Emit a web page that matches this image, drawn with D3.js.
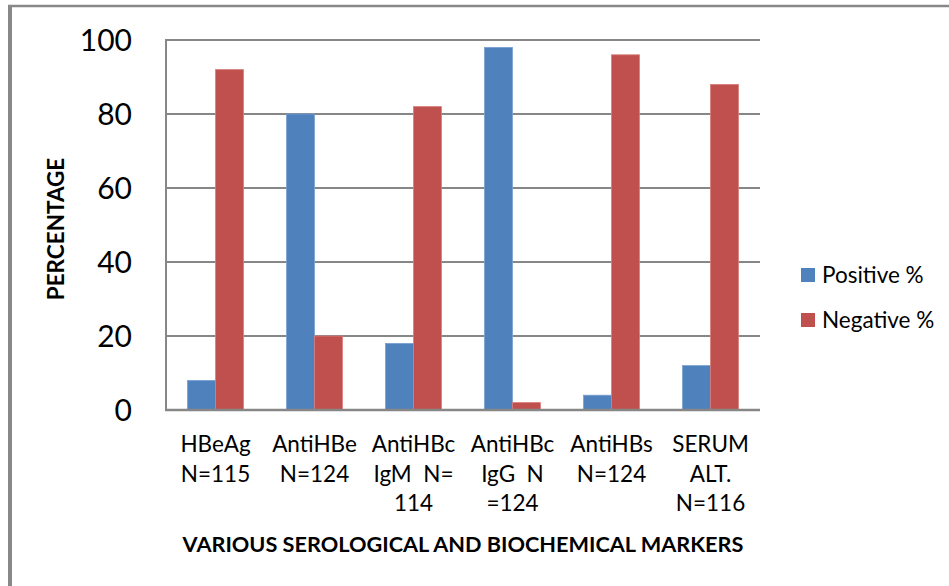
<!DOCTYPE html>
<html><head><meta charset="utf-8">
<script src="https://cdn.jsdelivr.net/npm/d3@7"></script>
<style>body{margin:0;background:#fff;} svg{display:block;font-family:Lato,"Open Sans",sans-serif;}</style>
</head><body>
<svg id="c" width="949" height="586"></svg>
<script>
const categories = [["HBeAg","N=115"],["AntiHBe","N=124"],["AntiHBc","IgM  N=","114"],["AntiHBc","IgG  N","=124"],["AntiHBs","N=124"],["SERUM","ALT.","N=116"]];
const positive = [8, 80, 18, 98, 4, 12];
const negative = [92, 20, 82, 2, 96, 88];
const yTicks = [0, 20, 40, 60, 80, 100];
const seriesNames = ["Positive %", "Negative %"];
const colors = ["#4F81BD", "#C0504D"];

const svg = d3.select("#c");
const L = 166, R = 760, T = 40, B = 410;
// outer frame
svg.append("line").attr("x1",10).attr("x2",10).attr("y1",5).attr("y2",586).attr("stroke","#888").attr("stroke-width",4);
svg.append("line").attr("x1",8).attr("x2",949).attr("y1",6).attr("y2",6).attr("stroke","#888").attr("stroke-width",2.5);

const idx = categories.map((d,i)=>i);
const x = d3.scaleBand().domain(idx).range([L,R]).paddingInner(0).paddingOuter(0);
const y = d3.scaleLinear().domain([0,100]).range([B,T]);
const bw = 28;

// gridlines
svg.append("g").selectAll("line").data(yTicks.filter(t=>t>0)).join("line")
  .attr("x1",L).attr("x2",R).attr("y1",d=>y(d)).attr("y2",d=>y(d))
  .attr("stroke","#878787").attr("stroke-width",2);

// bars
const series = [positive, negative];
series.forEach((vals, s) => {
  svg.append("g").selectAll("rect").data(vals).join("rect")
    .attr("x",(d,i)=>x(i)+x.bandwidth()/2 - bw + s*bw)
    .attr("y",d=>y(d)).attr("width",bw).attr("height",d=>B-y(d))
    .attr("fill",colors[s]).attr("stroke", s===0?"#7aa0d0":"#d67f7c").attr("stroke-width",0.8);
});

// axes lines
svg.append("line").attr("x1",L).attr("x2",L).attr("y1",T-1).attr("y2",B+1).attr("stroke","#878787").attr("stroke-width",2);
svg.append("line").attr("x1",L-1).attr("x2",R).attr("y1",B).attr("y2",B).attr("stroke","#878787").attr("stroke-width",2.5);

// y tick labels
const yAxis = d3.axisLeft(y).tickValues(yTicks).tickSize(0).tickPadding(0);
const ya = svg.append("g").attr("transform",`translate(132,0)`).call(yAxis);
ya.select(".domain").remove();
ya.selectAll("text").attr("font-size",30).attr("fill","#000").attr("font-family","Lato,sans-serif").attr("dy","0.36em");

// x labels
const xl = svg.append("g");
categories.forEach((lines,i)=>{
  const t = xl.append("text").attr("text-anchor","middle").attr("font-size",22.5).attr("fill","#000");
  lines.forEach((ln,j)=>t.append("tspan").attr("x",x(i)+x.bandwidth()/2).attr("y",452+j*29.5).text(ln).style("white-space","pre"));
});

// axis titles
svg.append("text").attr("x",463).attr("y",552).attr("text-anchor","middle").attr("font-size",21.7).attr("font-weight","bold").text("VARIOUS SEROLOGICAL AND BIOCHEMICAL MARKERS");
svg.append("text").attr("transform","translate(64,229) rotate(-90)").attr("text-anchor","middle").attr("font-size",22.5).attr("font-weight","bold").text("PERCENTAGE");

// legend
seriesNames.forEach((n,i)=>{
  const g = svg.append("g").attr("transform",`translate(801,${268+i*45})`);
  g.append("rect").attr("width",14).attr("height",14).attr("fill",colors[i]);
  g.append("text").attr("x",21).attr("y",15).attr("font-size",22.5).text(n);
});
</script>
</body></html>
